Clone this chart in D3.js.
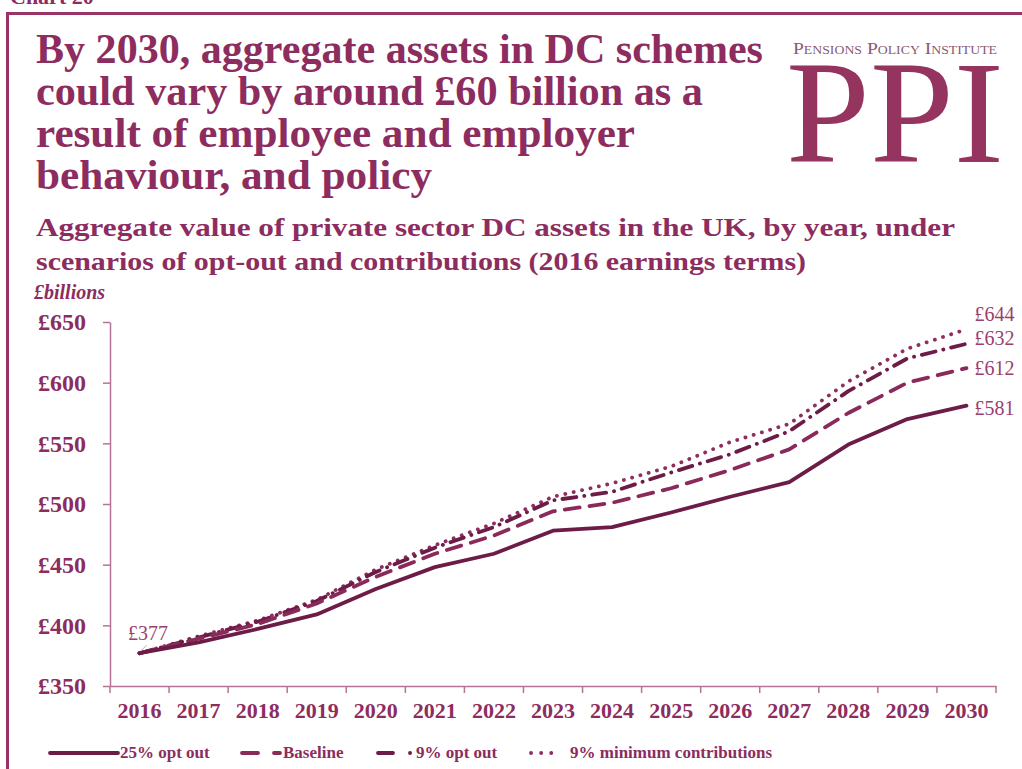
<!DOCTYPE html>
<html>
<head>
<meta charset="utf-8">
<script src="https://cdn.jsdelivr.net/npm/d3@7"></script>
<style>
  html, body { margin: 0; padding: 0; background: #fff; }
  svg { display: block; }
</style>
</head>
<body>
<svg id="chart" width="1022" height="769"></svg>
<script>
// Aggregate private sector DC assets (£bn, 2016 earnings terms)
const years = [2016, 2017, 2018, 2019, 2020, 2021, 2022, 2023, 2024, 2025, 2026, 2027, 2028, 2029, 2030];
const optOut25   = [377, 386, 397, 409, 430, 448, 459, 478, 481, 493, 506, 518, 549, 570, 581];
const baseline   = [377, 389, 401, 418, 440, 459, 474, 494, 501, 513, 528, 545, 575, 600, 612];
const optOut9    = [377, 390, 403, 420, 444, 464, 481, 503, 510, 526, 541, 560, 593, 620, 632];
const minContrib = [377, 391, 404, 421, 446, 466, 484, 506, 517, 531, 551, 566, 601, 628, 644];
const seriesNames = ["25% opt out", "Baseline", "9% opt out", "9% minimum contributions"];
const yTicks = [350, 400, 450, 500, 550, 600, 650];

const titleLines = [
  "By 2030, aggregate assets in DC schemes",
  "could vary by around £60 billion as a",
  "result of employee and employer",
  "behaviour, and policy"
];
const subtitleLines = [
  "Aggregate value of private sector DC assets in the UK, by year, under",
  "scenarios of opt-out and contributions (2016 earnings terms)"
];

const svg = d3.select("#chart");
const maroon = "#8d2c5e";
const dark = "#6c1c46";
const axisCol = "#b5739a";
const serif = "'Liberation Serif', 'DejaVu Serif', serif";

// Page frame and cut-off chart number
svg.append("text").attr("x", 10).attr("y", 4)
  .attr("font-family", serif).attr("font-weight", "bold").attr("font-size", 22)
  .attr("fill", maroon).text("Chart 20");
svg.append("path").attr("d", "M7.5,769 V13.5 H1022")
  .attr("fill", "none").attr("stroke", "#9a3466").attr("stroke-width", 3);

// Title
const titleWidths = [727, 667, 599, 396];
svg.append("g").selectAll("text").data(titleLines).join("text")
  .attr("x", 36).attr("y", (d, i) => 63 + i * 42)
  .attr("font-family", serif).attr("font-weight", "bold").attr("font-size", 42)
  .attr("fill", maroon)
  .attr("textLength", (d, i) => titleWidths[i]).attr("lengthAdjust", "spacingAndGlyphs")
  .text(d => d);

// Subtitle
const subWidths = [919, 770];
svg.append("g").selectAll("text").data(subtitleLines).join("text")
  .attr("x", 36).attr("y", (d, i) => 236 + i * 34)
  .attr("font-family", serif).attr("font-weight", "bold").attr("font-size", 26)
  .attr("fill", maroon)
  .attr("textLength", (d, i) => subWidths[i]).attr("lengthAdjust", "spacingAndGlyphs")
  .text(d => d);

// Logo
svg.append("text").attr("x", 793).attr("y", 54)
  .attr("font-family", serif).attr("font-size", 17).attr("font-variant", "small-caps")
  .attr("fill", "#8a5a74").attr("textLength", 204).attr("lengthAdjust", "spacingAndGlyphs")
  .text("Pensions Policy Institute");
svg.append("text").attr("x", 786).attr("y", 162)
  .attr("font-family", serif).attr("font-size", 146)
  .attr("fill", "#963460").attr("textLength", 218).attr("lengthAdjust", "spacingAndGlyphs")
  .text("PPI");

// Scales
const x = d3.scaleBand().domain(years).range([110, 996]).padding(0);
const xc = d => x(d) + x.bandwidth() / 2;
const y = d3.scaleLinear().domain([350, 650]).range([686, 322]);

// Unit label
svg.append("text").attr("x", 34).attr("y", 299)
  .attr("font-family", serif).attr("font-style", "italic").attr("font-weight", "bold")
  .attr("font-size", 20).attr("fill", maroon).text("£billions");

// Y axis
const yAxis = svg.append("g").attr("transform", "translate(110,0)")
  .call(d3.axisLeft(y).tickValues(yTicks).tickSize(7).tickSizeOuter(0).tickPadding(17)
    .tickFormat(d => "£" + d));
yAxis.select(".domain").attr("stroke", axisCol).attr("stroke-width", 1.5);
yAxis.selectAll(".tick line").attr("stroke", axisCol).attr("stroke-width", 1.5);
yAxis.selectAll(".tick text")
  .attr("font-family", serif).attr("font-weight", "bold").attr("font-size", 24)
  .attr("fill", maroon);

// X axis: labels centred in each year, ticks at year boundaries
const xAxis = svg.append("g").attr("transform", "translate(0,686)")
  .call(d3.axisBottom(x).tickSize(0).tickSizeOuter(0).tickPadding(16));
xAxis.select(".domain").attr("stroke", axisCol).attr("stroke-width", 1.5);
xAxis.selectAll(".tick text")
  .attr("font-family", serif).attr("font-weight", "bold").attr("font-size", 22)
  .attr("fill", maroon);
const edges = years.map(d => x(d)).concat([x.range()[1]]);
xAxis.selectAll("line.edge").data(edges).join("line").attr("class", "edge")
  .attr("x1", d => d).attr("x2", d => d).attr("y1", 0).attr("y2", 7)
  .attr("stroke", axisCol).attr("stroke-width", 1.5);

// Series
const series = [
  { name: seriesNames[0], values: optOut25,   color: dark,      dash: null },
  { name: seriesNames[1], values: baseline,   color: "#8a2a5b", dash: "15 10" },
  { name: seriesNames[2], values: optOut9,    color: dark,      dash: "14 8 0.1 8" },
  { name: seriesNames[3], values: minContrib, color: "#8f2d60", dash: "0.1 8.5" }
];
const line = d3.line().x((d, i) => xc(years[i])).y(d => y(d));
svg.append("g").selectAll("path").data(series.slice().reverse()).join("path")
  .attr("d", d => line(d.values))
  .attr("fill", "none").attr("stroke", d => d.color).attr("stroke-width", 3.8)
  .attr("stroke-linecap", "round").attr("stroke-linejoin", "round")
  .attr("stroke-dasharray", d => d.dash);

// Value labels
const labelFont = g => g.attr("font-family", serif).attr("font-size", 20).attr("fill", "#9a3f6e");
const last = years.length - 1;
const endOffsets = [9, 7, 1, -8];
svg.append("g").selectAll("text").data(series).join("text")
  .attr("x", xc(years[last]) + 8)
  .attr("y", (d, i) => y(d.values[last]) + endOffsets[i])
  .call(labelFont).text(d => "£" + d.values[last]);
svg.append("text").attr("x", 128).attr("y", y(optOut25[0]) - 13)
  .call(labelFont).text("£" + optOut25[0]);
svg.append("line")
  .attr("x1", xc(years[0]) + 1).attr("y1", y(optOut25[0]) - 2)
  .attr("x2", xc(years[0]) + 7).attr("y2", y(optOut25[0]) - 8)
  .attr("stroke", "#c7a0b6").attr("stroke-width", 1);

// Legend
const legendY = 753;
const lg = svg.append("g");
const legendItems = [
  { s: series[0], x1: 50,  x2: 118, dash: null,          tx: 120 },
  { s: series[1], x1: 242, x2: 280, dash: "16 16 6 20",  tx: 283 },
  { s: series[2], x1: 378, x2: 411, dash: "15 17 0.1 20", tx: 416 },
  { s: series[3], x1: 531, x2: 561, dash: "0.1 10",      tx: 570 }
];
lg.selectAll("line").data(legendItems).join("line")
  .attr("x1", d => d.x1).attr("x2", d => d.x2).attr("y1", legendY).attr("y2", legendY)
  .attr("stroke", d => d.s.color).attr("stroke-width", 3.8).attr("stroke-linecap", "round")
  .attr("stroke-dasharray", d => d.dash);
lg.selectAll("text").data(legendItems).join("text")
  .attr("x", d => d.tx).attr("y", legendY + 5)
  .attr("font-family", serif).attr("font-weight", "bold").attr("font-size", 17)
  .attr("fill", maroon).text(d => d.s.name);
</script>
</body>
</html>
